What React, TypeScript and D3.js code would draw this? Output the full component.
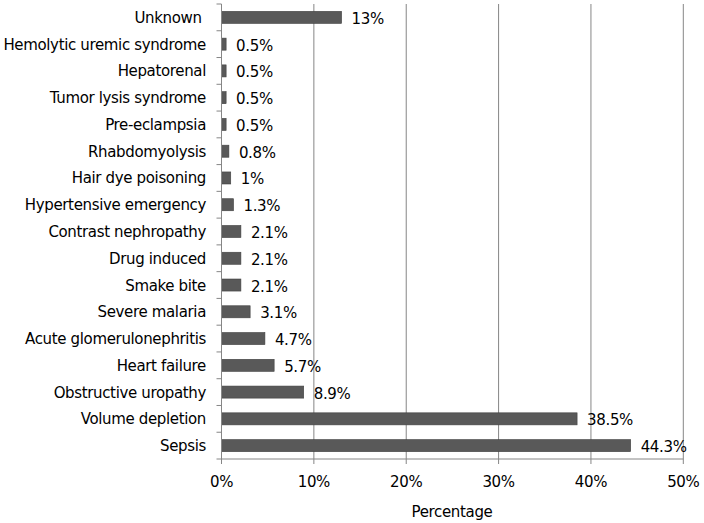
import React from "react";
import * as d3 from "d3";

const categories = [
  "Unknown ",
  "Hemolytic uremic syndrome",
  "Hepatorenal",
  "Tumor lysis syndrome",
  "Pre-eclampsia",
  "Rhabdomyolysis",
  "Hair dye poisoning",
  "Hypertensive emergency",
  "Contrast nephropathy",
  "Drug induced",
  "Smake bite",
  "Severe malaria",
  "Acute glomerulonephritis",
  "Heart failure",
  "Obstructive uropathy",
  "Volume depletion",
  "Sepsis",
];
const values = [13, 0.5, 0.5, 0.5, 0.5, 0.8, 1, 1.3, 2.1, 2.1, 2.1, 3.1, 4.7, 5.7, 8.9, 38.5, 44.3];
const valueLabels = ["13%", "0.5%", "0.5%", "0.5%", "0.5%", "0.8%", "1%", "1.3%", "2.1%", "2.1%", "2.1%", "3.1%", "4.7%", "5.7%", "8.9%", "38.5%", "44.3%"];
const xTicks = [0, 10, 20, 30, 40, 50];
const xTitle = "Percentage";

export default function App() {
  const W = 704, H = 523;
  const left = 221.5, right = 683.3, top = 4, bottom = 459;
  const x = d3.scaleLinear().domain([0, 50]).range([left, right]);
  const y = d3.scaleBand<string>().domain(categories).range([top, bottom]).paddingInner(0.55).paddingOuter(0.275);
  const band = d3.scaleBand<string>().domain(categories).range([top, bottom]);
  const font = "'DejaVu Sans', Verdana, sans-serif";
  const grid = "#868686";
  const fs = 15;
  const ls = -0.35;
  return (
    <svg width={W} height={H} style={{ position: "absolute", left: 0, top: 0, background: "#fff" }} fontFamily={font} letterSpacing={ls}>
      {xTicks.slice(1).map((t) => (
        <line key={"g" + t} x1={x(t)} x2={x(t)} y1={top} y2={bottom} stroke={grid} strokeWidth={1} />
      ))}
      {categories.map((c, i) => (
        <rect key={"b" + i} x={x(0)} y={y(c)!} width={x(values[i]) - x(0)} height={y.bandwidth()} fill="#595959" stroke="#404040" strokeWidth={0.6} />
      ))}
      <line x1={left} x2={left} y1={top} y2={bottom} stroke={grid} />
      <line x1={left} x2={right} y1={bottom} y2={bottom} stroke={grid} />
      {categories.map((c, i) => (
        <line key={"t" + i} x1={left - 5} x2={left} y1={band(c)!} y2={band(c)!} stroke={grid} />
      ))}
      <line x1={left - 5} x2={left} y1={bottom} y2={bottom} stroke={grid} />
      {xTicks.map((t) => (
        <line key={"xt" + t} x1={x(t)} x2={x(t)} y1={bottom} y2={bottom + 5} stroke={grid} />
      ))}
      {categories.map((c, i) => (
        <text key={"l" + i} x={206} y={band(c)! + band.bandwidth() / 2 + 1} textAnchor="end" dominantBaseline="middle" fontSize={fs} fill="#000" style={{ whiteSpace: "pre" }}>
          {c}
        </text>
      ))}
      {categories.map((c, i) => (
        <text key={"v" + i} x={x(values[i]) + 10} y={band(c)! + band.bandwidth() / 2 + 2} dominantBaseline="middle" fontSize={fs} fill="#000">
          {valueLabels[i]}
        </text>
      ))}
      {xTicks.map((t) => (
        <text key={"xl" + t} x={x(t)} y={482} textAnchor="middle" dominantBaseline="middle" fontSize={fs} fill="#000">
          {t + "%"}
        </text>
      ))}
      <text x={452} y={512} textAnchor="middle" dominantBaseline="middle" fontSize={fs} fill="#000">
        {xTitle}
      </text>
    </svg>
  );
}
